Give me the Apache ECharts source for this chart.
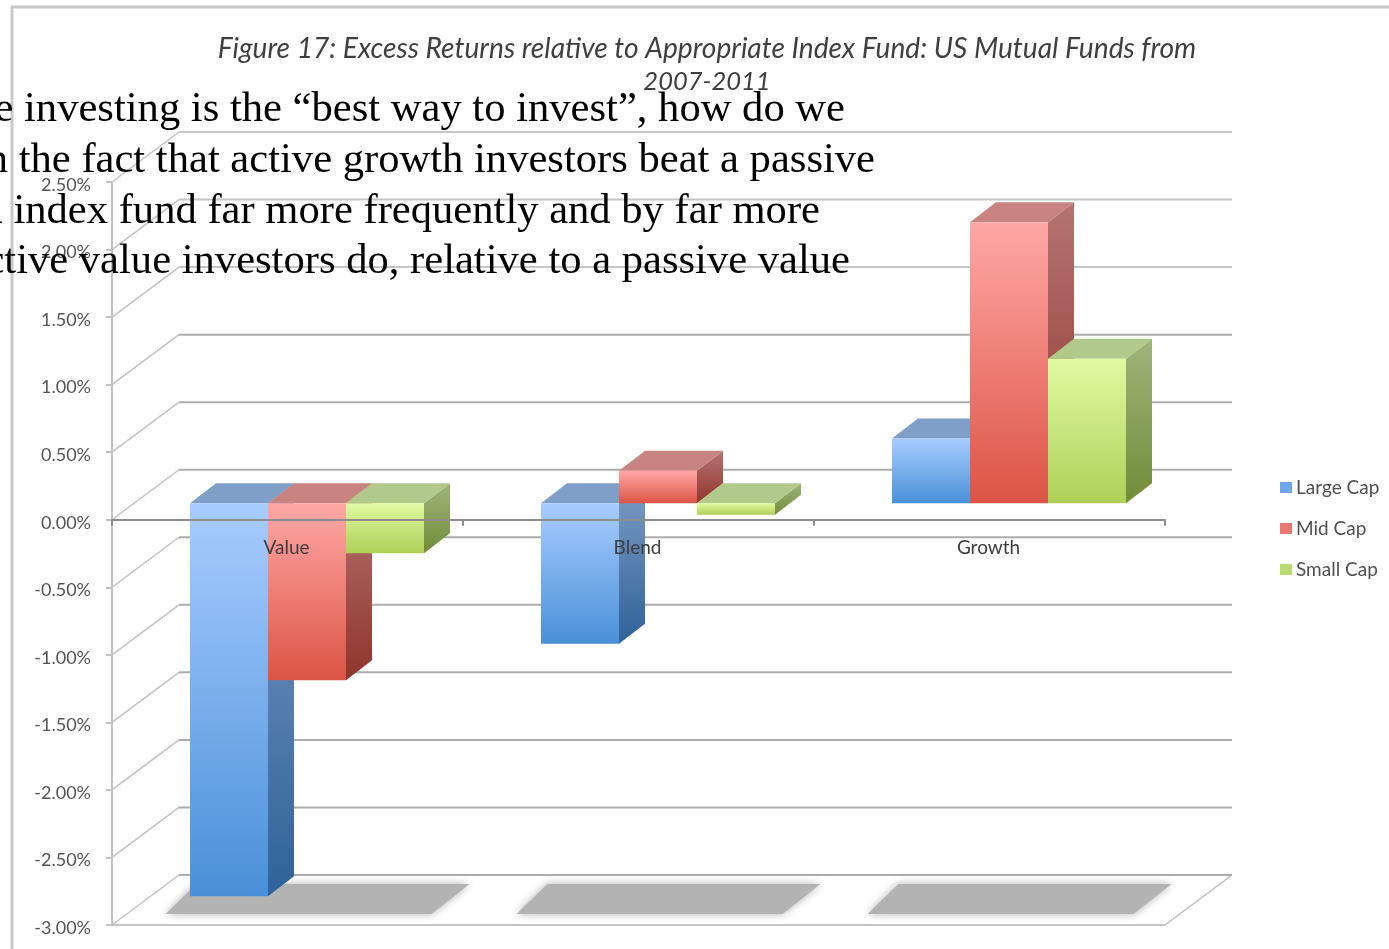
<!DOCTYPE html>
<html>
<head>
<meta charset="utf-8">
<style>html,body{margin:0;padding:0;background:#fff;overflow:hidden}#c{width:1389px;height:949px}</style>
<script src="https://cdn.jsdelivr.net/npm/echarts@6/dist/echarts.min.js"></script>
</head>
<body>
<div id="c"></div>
<script>
const categories = ['Value', 'Blend', 'Growth'];
const largeCap = [-2.91, -1.04, 0.48];
const midCap = [-1.31, 0.24, 2.08];
const smallCap = [-0.37, -0.085, 1.07];
const seriesNames = ['Large Cap', 'Mid Cap', 'Small Cap'];
const yTicks = [2.5, 2, 1.5, 1, 0.5, 0, -0.5, -1, -1.5, -2, -2.5, -3];
const titleLine1 = 'Figure 17: Excess Returns relative to Appropriate Index Fund: US Mutual Funds from';
const titleLine2 = '2007-2011';
const overlayLines = [
  'e investing is the \u201cbest way to invest\u201d, how do we',
  'n the fact that active growth investors beat a passive',
  'a index fund far more frequently and by far more',
  'ctive value investors do, relative to a passive value'
];

const G = echarts.graphic;
const vGrad = (a, b) => new G.LinearGradient(0, 0, 0, 1, [{offset: 0, color: a}, {offset: 1, color: b}]);
const palette = [
  {legend: '#6fa8e8', front: ['#a8ccff', '#4a90d8'], top: '#7f9fc8', side: ['#7c9cc4', '#2f6299']},
  {legend: '#e97872', front: ['#ffa8a6', '#dc5445'], top: '#c98481', side: ['#b57472', '#8f352c']},
  {legend: '#b9dc70', front: ['#e0faa2', '#aed058'], top: '#b1c98a', side: ['#a0b47c', '#708d38']}
];
const depthX = 26, depthY = -20, barW = 78, shiftX = 19.5, liftY = -16.5;

function barSeries(idx, values) {
  const p = palette[idx];
  return {
    type: 'custom', name: seriesNames[idx], z: 3 + idx,
    itemStyle: {color: p.legend},
    data: values.map((v, i) => [i, v]),
    renderItem(params, api) {
      const cat = api.value(0), val = api.value(1);
      const a = api.coord([cat, 0]), b = api.coord([cat, val]);
      const x0 = a[0] + shiftX + (idx - 1.5) * barW, x1 = x0 + barW;
      const yA = a[1] + liftY, yB = b[1] + liftY;
      const yT = Math.min(yA, yB), yL = Math.max(yA, yB);
      return {type: 'group', children: [
        {type: 'polygon', shape: {points: [[x1, yT], [x1 + depthX, yT + depthY], [x1 + depthX, yL + depthY], [x1, yL]]},
         style: {fill: vGrad(p.side[0], p.side[1])}},
        {type: 'polygon', shape: {points: [[x0, yT], [x0 + depthX, yT + depthY], [x1 + depthX, yT + depthY], [x1, yT]]},
         style: {fill: p.top}},
        {type: 'rect', shape: {x: x0, y: yT, width: barW, height: yL - yT},
         style: {fill: vGrad(p.front[0], p.front[1])}}
      ]};
    }
  };
}

const wallSeries = {
  type: 'custom', silent: true, z: 1, legendHoverLink: false,
  data: yTicks.map(v => [0, v]),
  renderItem(params, api) {
    const v = api.value(1);
    const L = api.coord([0, v]);
    const xL = 112, xR = 1165, dx = 67, dy = -50;
    const kids = [
      {type: 'line', shape: {x1: xL, y1: L[1], x2: xL + dx, y2: L[1] + dy}, style: {stroke: '#c2c2c2', lineWidth: 1.5}},
      {type: 'line', shape: {x1: xL + dx, y1: L[1] + dy, x2: xR + dx, y2: L[1] + dy}, style: {stroke: v > 1.2 ? '#c6c6c6' : '#adadad', lineWidth: 2}}
    ];
    if (v === -3) {
      kids.push({type: 'line', shape: {x1: xL, y1: L[1], x2: xR, y2: L[1]}, style: {stroke: '#c6c6c6', lineWidth: 2}});
      kids.push({type: 'line', shape: {x1: xR, y1: L[1], x2: xR + dx, y2: L[1] + dy}, style: {stroke: '#bdbdbd', lineWidth: 1.5}});
    }
    return {type: 'group', children: kids};
  }
};

const shadowSeries = {
  type: 'custom', silent: true, z: 2,
  data: categories.map((c, i) => [i, -3]),
  renderItem(params, api) {
    const p = api.coord([api.value(0), api.value(1)]);
    const x = p[0], y = p[1];
    return {type: 'polygon',
      shape: {points: [[x - 122, y - 11], [x - 91, y - 41], [x + 182, y - 41], [x + 144, y - 11]]},
      style: {fill: '#b3b3b3', shadowColor: '#b3b3b3', shadowBlur: 8}};
  }
};

const categoryLabelSeries = {
  type: 'custom', silent: true, z: 20,
  data: categories.map((c, i) => [i, 0]),
  renderItem(params, api) {
    const p = api.coord([api.value(0), api.value(1)]);
    return {type: 'text', style: {
      x: p[0] - 1, y: p[1] + 28.5, text: categories[params.dataIndex], textAlign: 'center', textVerticalAlign: 'middle',
      fill: '#3d3d3d', font: '19px Lato'
    }};
  }
};

const titleText = {fontFamily: 'Lato', fontStyle: 'italic', fontWeight: 'normal', color: '#3f3f3f'};
const chart = echarts.init(document.getElementById('c'), null, {renderer: 'canvas'});
chart.setOption({
  animation: false,
  backgroundColor: '#ffffff',
  title: [
    {text: titleLine1, left: 702, top: 27, textAlign: 'center', textStyle: {...titleText, fontSize: 28.15, lineHeight: 33}},
    {text: titleLine2, left: 702, top: 60, textAlign: 'center', textStyle: {...titleText, fontSize: 25.5, lineHeight: 33}}
  ],
  legend: {
    orient: 'vertical', left: 1280, top: 478, padding: 0, itemWidth: 12, itemHeight: 11, itemGap: 22,
    icon: 'rect', data: seriesNames, selectedMode: false,
    textStyle: {fontFamily: 'Lato', fontSize: 19, color: '#505050', padding: [0, 0, 0, -1]}
  },
  grid: {left: 112, top: 182, width: 1053, height: 743, outerBoundsMode: 'none'},
  xAxis: {
    type: 'category', data: categories, z: 10,
    axisLine: {onZero: true, lineStyle: {color: '#8e8e8e', width: 2}},
    axisTick: {show: true, length: 6, alignWithLabel: false, lineStyle: {color: '#8e8e8e', width: 2}},
    axisLabel: {show: false},
    splitLine: {show: false}
  },
  yAxis: {
    type: 'value', min: -3, max: 2.5, interval: 0.5, z: 2,
    axisLine: {show: true, lineStyle: {color: '#c2c2c2', width: 2}},
    axisTick: {show: true, length: 6, lineStyle: {color: '#c2c2c2', width: 2}},
    axisLabel: {margin: 21, fontFamily: 'Lato', fontSize: 18, color: '#555555', verticalAlign: 'top', lineHeight: 6, formatter: v => v.toFixed(2) + '%'},
    splitLine: {show: false}
  },
  graphic: [
    {type: 'polyline', z: 0, shape: {points: [[12, 960], [12, 7], [1400, 7]]}, style: {fill: 'none', stroke: '#c9c9c9', lineWidth: 3}},
    ...overlayLines.map((t, i) => ({
      type: 'text', z: 100, x: [845, 875, 820, 850][i], y: 110 + i * 50.7,
      style: {text: t, textAlign: 'right', textVerticalAlign: 'middle', fill: '#000', font: '42.6px "Liberation Serif"'}
    }))
  ],
  series: [wallSeries, shadowSeries, barSeries(0, largeCap), barSeries(1, midCap), barSeries(2, smallCap), categoryLabelSeries]
});
</script>
</body>
</html>
